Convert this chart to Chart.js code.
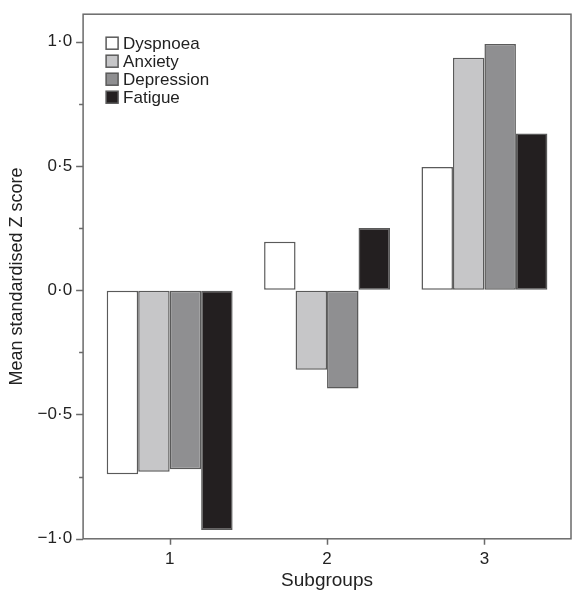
<!DOCTYPE html>
<html>
<head>
<meta charset="utf-8">
<script src="https://cdn.jsdelivr.net/npm/chart.js@4.4.0/dist/chart.umd.min.js"></script>
<style>
  html, body { margin: 0; padding: 0; background: #fff; }
  #wrap { width: 578px; height: 599px; }
</style>
</head>
<body>
<div id="wrap"><canvas id="chart"></canvas></div>
<script>
const subgroups = [1, 2, 3]
const dyspnoea = [-0.74, 0.195, 0.495]
const anxiety = [-0.73, -0.32, 0.935]
const depression = [-0.72, -0.395, 0.99]
const fatigue = [-0.965, 0.25, 0.63]
const yTicks = [-1.0, -0.5, 0.0, 0.5, 1.0]
const yMinorTicks = [-0.75, -0.25, 0.25, 0.75]

const edge = "#5a5a5a"
const axisGrey = "#6a6a6a"

// format like the journal: middle dot and real minus
const fmt = (v) => v.toFixed(1).replace(".", "\u00b7").replace("-", "\u2212")

const points = (values) => subgroups.map((s, i) => ({ x: s, y: values[i] }))

const makeSet = (label, values, fill) => ({
  label: label,
  data: points(values),
  backgroundColor: fill,
  borderColor: edge,
  borderWidth: 1.5,
  borderSkipped: false,
  categoryPercentage: 0.8,
  barPercentage: 1.0
})

// box round the plot area plus the small tick marks outside it
const frame = {
  id: "frame",
  afterDraw(chart) {
    const a = chart.chartArea
    const ctx = chart.ctx
    const xs = chart.scales.x
    const ys = chart.scales.y
    ctx.save()
    ctx.strokeStyle = axisGrey
    ctx.lineWidth = 1.5
    ctx.strokeRect(a.left, a.top, a.right - a.left, a.bottom - a.top)
    ctx.beginPath()
    subgroups.forEach(v => {
      const px = Math.round(xs.getPixelForValue(v)) + 0.5
      ctx.moveTo(px, a.bottom)
      ctx.lineTo(px, a.bottom + 6)
    })
    yTicks.forEach(v => {
      const py = Math.round(ys.getPixelForValue(v)) + 0.5
      ctx.moveTo(a.left, py)
      ctx.lineTo(a.left - 7, py)
    })
    yMinorTicks.forEach(v => {
      const py = Math.round(ys.getPixelForValue(v)) + 0.5
      ctx.moveTo(a.left, py)
      ctx.lineTo(a.left - 4, py)
    })
    ctx.stroke()
    ctx.restore()
  }
}

// legend in the top left corner of the plot
const cornerLegend = {
  id: "cornerLegend",
  afterDraw(chart) {
    const a = chart.chartArea
    const ctx = chart.ctx
    ctx.save()
    ctx.font = "17px 'Liberation Sans', Arial, sans-serif"
    ctx.textBaseline = "middle"
    chart.data.datasets.forEach((ds, i) => {
      const x = a.left + 23
      const y = a.top + 29 + i * 18
      ctx.fillStyle = ds.backgroundColor
      ctx.fillRect(x, y - 6, 12, 12)
      ctx.strokeStyle = edge
      ctx.lineWidth = 1.5
      ctx.strokeRect(x, y - 6, 12, 12)
      ctx.fillStyle = "#222"
      ctx.fillText(ds.label, x + 17, y + 1)
    })
    ctx.restore()
  }
}

Chart.defaults.font.family = "'Liberation Sans', Arial, sans-serif"
Chart.defaults.color = "#222"

// tick marks are drawn by the frame plugin; the grid only keeps room for them
const hiddenGrid = (len) => ({
  display: true, offset: false, drawOnChartArea: false, drawTicks: true,
  tickLength: len, tickColor: "rgba(0,0,0,0)"
})

new Chart(document.getElementById("chart"), {
  type: "bar",
  data: {
    datasets: [
      makeSet("Dyspnoea", dyspnoea, "#ffffff"),
      makeSet("Anxiety", anxiety, "#c6c6c8"),
      makeSet("Depression", depression, "#8f8f91"),
      makeSet("Fatigue", fatigue, "#231f20")
    ]
  },
  options: {
    responsive: true,
    maintainAspectRatio: false,
    animation: false,
    layout: { padding: { top: 12, right: 7, bottom: 3, left: 2 } },
    plugins: {
      tooltip: { enabled: false },
      legend: { display: false }
    },
    scales: {
      x: {
        type: "linear",
        offset: false,
        min: 0.45,
        max: 3.55,
        afterBuildTicks: (axis) => { axis.ticks = subgroups.map(v => ({ value: v })) },
        grid: hiddenGrid(6),
        border: { display: false },
        ticks: { font: { size: 17 }, padding: 4, callback: (v) => String(v) },
        title: { display: true, text: "Subgroups", font: { size: 19 }, padding: { top: -4, bottom: 4 } }
      },
      y: {
        min: -1.0,
        max: 1.11,
        afterBuildTicks: (axis) => { axis.ticks = yTicks.map(v => ({ value: v })) },
        grid: hiddenGrid(7),
        border: { display: false },
        ticks: {
          font: { size: 17 },
          padding: 4,
          callback: (v) => fmt(v)
        },
        title: { display: true, text: "Mean standardised Z score", font: { size: 18 }, padding: { bottom: 6 } }
      }
    }
  },
  plugins: [frame, cornerLegend]
})
</script>
</body>
</html>
